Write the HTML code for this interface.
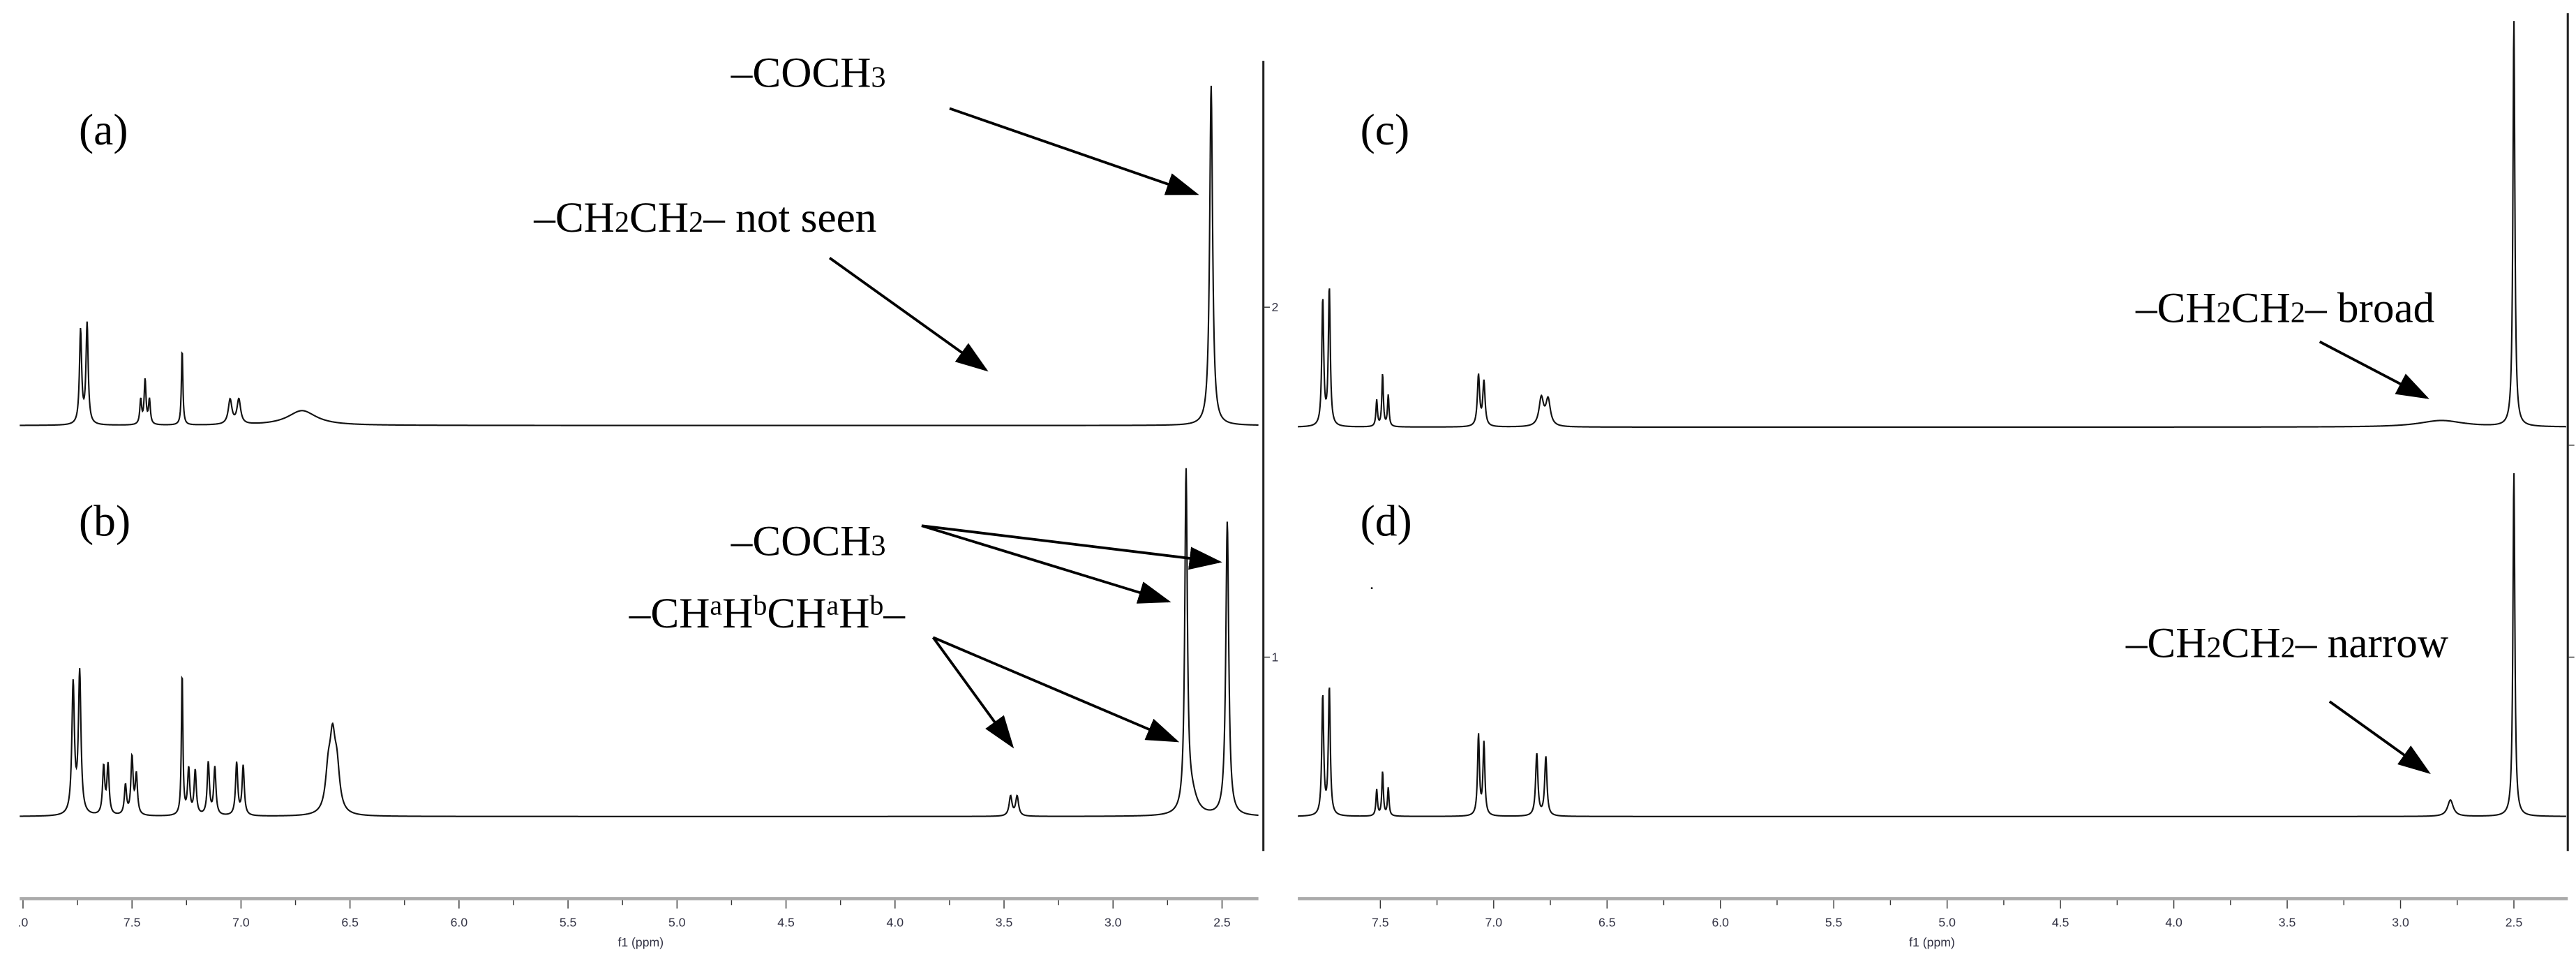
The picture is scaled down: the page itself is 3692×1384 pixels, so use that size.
<!DOCTYPE html>
<html><head><meta charset="utf-8"><style>
html,body{margin:0;padding:0;background:#fff;}
svg{display:block;}
text{font-family:"Liberation Serif",serif;fill:#000;}
.ax{font-family:"Liberation Sans",sans-serif;fill:#334;font-size:7.5px;}
</style></head><body>
<svg id="chart" width="3692" height="1384" viewBox="0 0 1568 588" preserveAspectRatio="none" xmlns="http://www.w3.org/2000/svg">
<defs><marker id="ah" markerWidth="20" markerHeight="14" refX="18" refY="7" orient="auto" markerUnits="userSpaceOnUse"><path d="M0,0 L20,7 L0,14 Z" fill="#000"/></marker></defs>
<g id="spectra"></g>
<g id="axes"></g>
<g stroke="#000" stroke-width="1.6" fill="none">
<line x1="578" y1="66" x2="728" y2="118" marker-end="url(#ah)"/>
<line x1="505" y1="157" x2="600" y2="225" marker-end="url(#ah)"/>
<line x1="561" y1="320" x2="742" y2="342" marker-end="url(#ah)"/>
<line x1="561" y1="320" x2="711" y2="366" marker-end="url(#ah)"/>
<line x1="568" y1="388" x2="616" y2="454" marker-end="url(#ah)"/>
<line x1="568" y1="388" x2="716" y2="451" marker-end="url(#ah)"/>
<line x1="1412" y1="208" x2="1477" y2="242" marker-end="url(#ah)"/>
<line x1="1418" y1="427" x2="1478" y2="470" marker-end="url(#ah)"/>
</g>
<g font-size="27">
<text x="48" y="88">(a)</text>
<text x="48" y="326">(b)</text>
<text x="828" y="88">(c)</text>
<text x="828" y="326">(d)</text>
<text x="445" y="53" font-size="26">–COCH<tspan font-size="18">3</tspan></text>
<text x="325" y="141" font-size="26">–CH<tspan font-size="18">2</tspan>CH<tspan font-size="18">2</tspan>– not seen</text>
<text x="445" y="338" font-size="26">–COCH<tspan font-size="18">3</tspan></text>
<text x="383" y="382" font-size="26">–CH<tspan font-size="17" dy="-8">a</tspan><tspan dy="8">H</tspan><tspan font-size="17" dy="-8">b</tspan><tspan dy="8">CH</tspan><tspan font-size="17" dy="-8">a</tspan><tspan dy="8">H</tspan><tspan font-size="17" dy="-8">b</tspan><tspan dy="8">–</tspan></text>
<text x="1300" y="196" font-size="26">–CH<tspan font-size="18">2</tspan>CH<tspan font-size="18">2</tspan>– broad</text>
<text x="1294" y="400" font-size="26">–CH<tspan font-size="18">2</tspan>CH<tspan font-size="18">2</tspan>– narrow</text>
<circle cx="835" cy="358" r="0.6" fill="#000"/>
</g>
</svg>
<script>
// ---- data ----
const shiftsA = [7.736,7.706,7.46,7.44,7.42,7.27,7.05,7.01,6.72,2.55];
const heightsA = [57,61,15,27,15,46,15,15,9,207];
const widthsA = [0.006,0.006,0.005,0.005,0.005,0.004,0.01,0.01,0.08,0.008];
const shiftsB = [7.77,7.74,7.63,7.61,7.53,7.50,7.48,7.27,7.24,7.21,7.15,7.12,7.02,6.99,6.60,6.58,6.56,3.47,3.44,2.665,2.64,2.476];
const heightsB = [79,86,29,30,18,35,24,87,28,27,32,29,32,30,22,40,24,12,12,205,12,179];
const widthsB = [0.007,0.007,0.006,0.006,0.006,0.006,0.006,0.004,0.006,0.006,0.006,0.006,0.006,0.006,0.015,0.015,0.015,0.008,0.008,0.007,0.03,0.008];
const shiftsC = [7.754,7.725,7.516,7.49,7.465,7.067,7.043,6.79,6.76,2.82,2.50];
const heightsC = [77,84,16,32,19,31,27,17,16,4,248];
const widthsC = [0.005,0.005,0.004,0.004,0.004,0.006,0.006,0.012,0.012,0.12,0.005];
const shiftsD = [7.754,7.725,7.516,7.49,7.465,7.067,7.043,6.81,6.77,2.78,2.50];
const heightsD = [73,78,16,27,17,49,44,38,36,10,210];
const widthsD = [0.005,0.005,0.004,0.004,0.004,0.005,0.005,0.006,0.006,0.015,0.005];
const leftTicks = [8.0,7.5,7.0,6.5,6.0,5.5,5.0,4.5,4.0,3.5,3.0,2.5];
const leftTickLabels = [".0","7.5","7.0","6.5","6.0","5.5","5.0","4.5","4.0","3.5","3.0","2.5"];
const rightTicks = [7.5,7.0,6.5,6.0,5.5,5.0,4.5,4.0,3.5,3.0,2.5];
const rightTickLabels = ["7.5","7.0","6.5","6.0","5.5","5.0","4.5","4.0","3.5","3.0","2.5"];
const yTickValues = [2,1];

const NS="http://www.w3.org/2000/svg";
const xL = p => 14 + (8.0 - p) * 132.7;
const xR = p => 840.2 + (7.5 - p) * 138;
const spectra = document.getElementById('spectra');
const axes = document.getElementById('axes');

function drawSpectrum(name, xf, x0, x1, base, sh, hs, ws){
  let d = '';
  for (let x = x0; x <= x1; x += 0.25){
    // invert x->ppm numerically via linear map
    const p0 = xf(0), p1 = xf(1);
    const ppm = (x - p0) / (p1 - p0);
    let y = 0;
    for (let i = 0; i < sh.length; i++){
      const u = (ppm - sh[i]) / ws[i];
      y += hs[i] / (1 + u*u);
    }
    d += (d ? 'L' : 'M') + x.toFixed(2) + ',' + (base - y).toFixed(2);
  }
  const path = document.createElementNS(NS,'path');
  path.setAttribute('d', d);
  path.setAttribute('fill','none');
  path.setAttribute('stroke','#111');
  path.setAttribute('stroke-width','0.9');
  
  
  spectra.appendChild(path);
}
drawSpectrum('spectrum-a', xL, 12, 766, 259, shiftsA, heightsA, widthsA);
drawSpectrum('spectrum-b', xL, 12, 766, 497, shiftsB, heightsB, widthsB);
drawSpectrum('spectrum-c', xR, 790, 1562, 260, shiftsC, heightsC, widthsC);
drawSpectrum('spectrum-d', xR, 790, 1562, 497, shiftsD, heightsD, widthsD);

function mk(tag, attrs){
  const e = document.createElementNS(NS, tag);
  for (const k in attrs) e.setAttribute(k, attrs[k]);
  axes.appendChild(e);
  return e;
}
function xAxis(name, xf, x0, x1, ticks, labels, titleX){
  const band = mk('rect', {x:x0, y:546, width:x1-x0, height:2, fill:'#aaa'});
  
  
  for (let i = 0; i < ticks.length; i++){
    const x = xf(ticks[i]);
    mk('line', {x1:x, y1:548, x2:x, y2:553, stroke:'#333', 'stroke-width':0.6});
    const mx = xf(ticks[i] - 0.25);
    if (mx < x1) mk('line', {x1:mx, y1:548, x2:mx, y2:551, stroke:'#333', 'stroke-width':0.6});
    const t = mk('text', {x:x, y:564, 'text-anchor':'middle', class:'ax'});
    t.textContent = labels[i];
    
    
  }
  const tt = mk('text', {x:titleX, y:576, 'text-anchor':'middle', class:'ax'});
  tt.textContent = 'f1 (ppm)';
  
  
}
xAxis('left-x-axis', xL, 12, 766, leftTicks, leftTickLabels, 390);
xAxis('right-x-axis', xR, 790, 1563, rightTicks, rightTickLabels, 1176);

function yAxis(name, x, top, ys){
  const l = mk('line', {x1:x, y1:top, x2:x, y2:518, stroke:'#222', 'stroke-width':1.3});
  
  
  for (let i = 0; i < yTickValues.length; i++){
    mk('line', {x1:x, y1:ys[i], x2:x+4, y2:ys[i], stroke:'#333', 'stroke-width':0.6});
    const t = mk('text', {x:x+5, y:ys[i]+2.5, class:'ax'});
    t.textContent = yTickValues[i];
    
    
  }
}
yAxis('left-y-axis', 769, 37, [187, 400]);
yAxis('right-y-axis', 1563, 8, [271, 400]);
</script>
</body></html>
